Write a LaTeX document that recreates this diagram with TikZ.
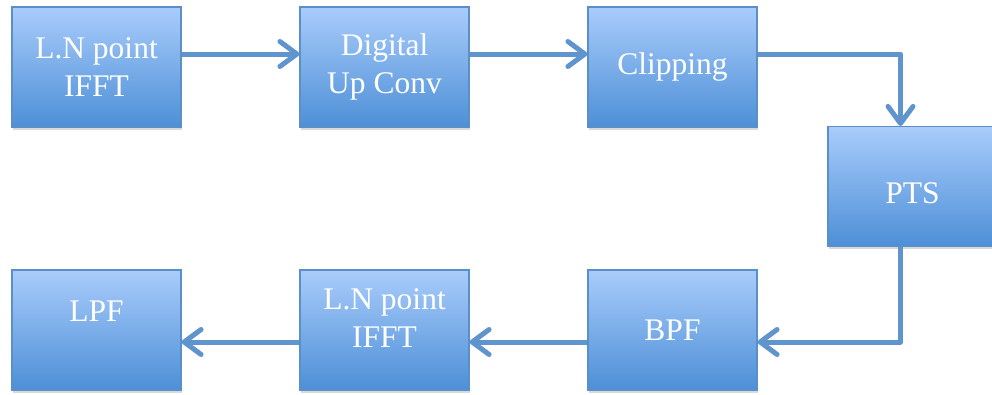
\documentclass[tikz,border=0pt]{standalone}
\usepackage{fontspec}
\setmainfont{Liberation Serif}
\usetikzlibrary{arrows.meta,shadows}
\definecolor{boxtop}{HTML}{A9CCFB}
\definecolor{boxbot}{HTML}{4D8FD7}
\definecolor{boxline}{HTML}{5B8FC8}
\definecolor{arrline}{HTML}{5F95CC}
\begin{document}
\begin{tikzpicture}[x=1pt, y=-1pt,
        b/.style={draw=boxline, line width=1.2pt, top color=boxtop, bottom color=boxbot,
            minimum width=169pt, minimum height=120pt, inner sep=0pt,
            drop shadow={opacity=0.3, shadow xshift=1pt, shadow yshift=-2.5pt}},
        t/.style={text=white, align=center, font=\fontsize{31.5}{38}\selectfont},
        a/.style={draw=arrline, line width=5pt, line join=round,
            -{Straight Barb[length=17pt,width=25pt,round]}}]
        \useasboundingbox (0,0) rectangle (992,394);

        % top row
        \node[b] (ifft1) at (96.5,67) {};
        \node[t] (ifft1t) at (ifft1.center) {L.N point\\IFFT};
        \node[b] (upc) at (384.5,67) {};
        \node[t] (upct) at (upc.center) {Digital\\Up Conv};
        \node[b] (clip) at (672.5,67) {};
        \node[t] (clipt) at (clip.center) {Clipping};

        % right
        \node[b] (pts) at (912.5,186.5) {};
        \node[t] (ptst) at ([yshift=-7pt]pts.center) {PTS};

        % bottom row
        \node[b] (bpf) at (672.5,330) {};
        \node[t] (bpft) at (bpf.center) {BPF};
        \node[b] (ifft2) at (384.5,330) {};
        \node[t] (ifft2t) at ([yshift=12pt]ifft2.center) {L.N point\\IFFT};
        \node[b] (lpf) at (96.5,330) {};
        \node[t] (lpft) at ([yshift=19pt]lpf.center) {LPF};

        \draw[a] ([yshift=13pt]ifft1.east) -- ([yshift=13pt]upc.west);
        \draw[a] ([yshift=13pt]upc.east) -- ([yshift=13pt]clip.west);
        \draw[a] ([yshift=13pt]clip.east) -| ([xshift=-12pt]pts.north);
        \draw[a] ([xshift=-12pt]pts.south) |- ([yshift=-12pt]bpf.east);
        \draw[a] ([yshift=-12pt]bpf.west) -- ([yshift=-12pt]ifft2.east);
        \draw[a] ([yshift=-12pt]ifft2.west) -- ([yshift=-12pt]lpf.east);
    \end{tikzpicture}
\end{document}
